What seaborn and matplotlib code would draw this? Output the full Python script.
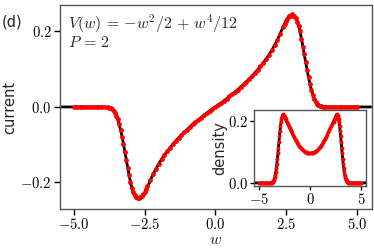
import numpy as np
import pandas as pd
import matplotlib
matplotlib.use("Agg")
import matplotlib.pyplot as plt
import seaborn as sns
from matplotlib.ticker import FuncFormatter


#data

#sample points of the red (measured) data
w_data = np.concatenate([
    np.linspace(-5.0, -3.8, 13),
    np.linspace(-3.75, -2.40, 28),
    np.linspace(-2.3, 2.3, 47),
    np.linspace(2.40, 3.75, 28),
    np.linspace(3.8, 5.0, 13),
])

current_data = [
    0.0, 0.0, 0.0, 0.0, 0.0, 0.0, 0.0, 0.0, 0.0, 0.0, 0.0, -0.001, -0.001,
    -0.002, -0.003, -0.006, -0.010, -0.015, -0.023, -0.033, -0.046, -0.061, -0.079,
    -0.098, -0.119, -0.140, -0.161, -0.181, -0.199, -0.214, -0.226, -0.232, -0.238,
    -0.240, -0.242, -0.238, -0.236, -0.230, -0.225, -0.218, -0.210,
    -0.194, -0.178, -0.163, -0.150, -0.138, -0.127, -0.117, -0.108, -0.099, -0.090,
    -0.082, -0.074, -0.067, -0.060, -0.053, -0.046, -0.040, -0.034, -0.028, -0.022,
    -0.016, -0.010, -0.005, 0.000, 0.005, 0.010, 0.016, 0.022, 0.028, 0.034,
    0.040, 0.046, 0.053, 0.060, 0.067, 0.074, 0.082, 0.090, 0.099, 0.108,
    0.117, 0.127, 0.138, 0.150, 0.163, 0.178, 0.194,
    0.212, 0.220, 0.228, 0.234, 0.240, 0.241, 0.245, 0.242, 0.240, 0.235,
    0.226, 0.214, 0.200, 0.181, 0.160, 0.139, 0.118, 0.097, 0.078, 0.060,
    0.045, 0.032, 0.022, 0.014, 0.009, 0.005, 0.003, 0.002,
    0.001, 0.001, 0.0, 0.0, 0.0, 0.0, 0.0, 0.0, 0.0, 0.0, 0.0, 0.0, 0.0,
]

density_data = [
    0.0, 0.0, 0.0, 0.0, 0.0, 0.0, 0.0, 0.0, 0.0, 0.0, 0.0, 0.0, 0.0,
    0.001, 0.002, 0.003, 0.005, 0.008, 0.012, 0.018, 0.026, 0.036, 0.048,
    0.062, 0.078, 0.095, 0.113, 0.131, 0.150, 0.167, 0.183, 0.196, 0.207,
    0.214, 0.219, 0.221, 0.220, 0.217, 0.213, 0.209, 0.205,
    0.198, 0.191, 0.184, 0.177, 0.170, 0.163, 0.156, 0.149, 0.143, 0.137,
    0.131, 0.125, 0.120, 0.116, 0.112, 0.108, 0.105, 0.102, 0.100, 0.099,
    0.098, 0.097, 0.096, 0.095, 0.096, 0.097, 0.098, 0.099, 0.100, 0.102,
    0.105, 0.108, 0.112, 0.116, 0.120, 0.125, 0.131, 0.137, 0.143, 0.149,
    0.156, 0.163, 0.170, 0.177, 0.184, 0.191, 0.198,
    0.205, 0.209, 0.213, 0.217, 0.220, 0.221, 0.219, 0.214, 0.207, 0.196,
    0.183, 0.167, 0.150, 0.131, 0.113, 0.095, 0.078, 0.062, 0.048, 0.036,
    0.026, 0.018, 0.012, 0.008, 0.005, 0.003, 0.002, 0.001,
    0.0, 0.0, 0.0, 0.0, 0.0, 0.0, 0.0, 0.0, 0.0, 0.0, 0.0, 0.0, 0.0,
]

#sample points of the black (theory) curve
w_theory = np.concatenate([
    [-5.5, -4.0],
    np.linspace(-3.8, -2.4, 15),
    np.linspace(-2.2, 2.2, 23),
    np.linspace(2.4, 3.8, 15),
    [4.0, 5.5],
])

current_theory = [
    0.0, 0.0,
    -0.001, -0.003, -0.009, -0.022, -0.045, -0.078, -0.118, -0.160,
    -0.200, -0.228, -0.242, -0.245, -0.240, -0.228, -0.212,
    -0.178, -0.150, -0.127, -0.108, -0.090, -0.074, -0.060, -0.046,
    -0.034, -0.022, -0.010, 0.0, 0.010, 0.022, 0.034, 0.046,
    0.060, 0.074, 0.090, 0.108, 0.127, 0.150, 0.178,
    0.212, 0.228, 0.240, 0.245, 0.242, 0.228, 0.200, 0.160,
    0.118, 0.078, 0.045, 0.022, 0.009, 0.003, 0.001,
    0.0, 0.0,
]

density_theory = [
    0.0, 0.0,
    0.0, 0.002, 0.005, 0.012, 0.026, 0.048, 0.078, 0.113,
    0.150, 0.183, 0.207, 0.219, 0.221, 0.214, 0.205,
    0.191, 0.177, 0.163, 0.149, 0.137, 0.125, 0.116, 0.108,
    0.102, 0.099, 0.097, 0.095, 0.097, 0.099, 0.102, 0.108,
    0.116, 0.125, 0.137, 0.149, 0.163, 0.177, 0.191,
    0.205, 0.214, 0.221, 0.219, 0.207, 0.183, 0.150, 0.113,
    0.078, 0.048, 0.026, 0.012, 0.005, 0.002, 0.0,
    0.0, 0.0,
]

theory_df = pd.DataFrame({'w': w_theory, 'current': current_theory, 'density': density_theory})
data_df = pd.DataFrame({'w': w_data, 'current': current_data, 'density': density_data})


#style
sns.set_style('ticks')
plt.rcParams['font.family'] = ['DejaVu Sans']
plt.rcParams['mathtext.fontset'] = 'cm'
plt.rcParams['axes.edgecolor'] = '#555555'
plt.rcParams['axes.linewidth'] = 1.0

fmt1 = FuncFormatter(lambda v, p: f'${v:.1f}$')
fmt0 = FuncFormatter(lambda v, p: f'${v:.0f}$')

fig = plt.figure(figsize=(3.74, 2.49), dpi=100)

#main axes: current
ax = fig.add_axes([0.160, 0.161, 0.835, 0.819])
sns.lineplot(data=theory_df, x='w', y='current', color='black', lw=2.0, sort=False, ax=ax)
sns.scatterplot(data=data_df, x='w', y='current', color='red', s=12, linewidth=0, ax=ax, zorder=3)
ax.set_xlim(-5.5, 5.55)
ax.set_ylim(-0.27, 0.27)
ax.set_xticks([-5.0, -2.5, 0.0, 2.5, 5.0])
ax.set_yticks([-0.2, 0.0, 0.2])
ax.xaxis.set_major_formatter(fmt1)
ax.yaxis.set_major_formatter(fmt1)
ax.tick_params(labelsize=10.5, length=4, width=1, pad=2, colors='black')
ax.set_xlabel('$w$', fontsize=11.5)
ax.xaxis.set_label_coords(0.5, -0.115)
ax.set_ylabel('current', fontsize=10.5, labelpad=2)
ax.text(0.025, 0.965, r'$V(w)\,=\,{-}w^2/2\,+\,w^4/12$' + '\n' + r'$P\,=\,2$', transform=ax.transAxes,
        ha='left', va='top', fontsize=11.5, linespacing=1.0)
fig.text(0.005, 0.895, '(d)', fontsize=10.5)

#inset: density
axin = fig.add_axes([0.679, 0.253, 0.300, 0.305])
sns.lineplot(data=theory_df, x='w', y='density', color='black', lw=2.0, sort=False, ax=axin)
sns.scatterplot(data=data_df, x='w', y='density', color='red', s=8, linewidth=0, ax=axin, zorder=3)
axin.set_xlim(-5.5, 5.5)
axin.set_ylim(-0.01, 0.235)
axin.set_xticks([-5, 0, 5])
axin.set_yticks([0.0, 0.2])
axin.xaxis.set_major_formatter(fmt0)
axin.yaxis.set_major_formatter(fmt1)
axin.tick_params(labelsize=10.5, length=3, width=1, pad=1, colors='black')
axin.set_xlabel('')
axin.set_ylabel('density', fontsize=10.5, labelpad=1)

plt.savefig('out.png', dpi=100)
